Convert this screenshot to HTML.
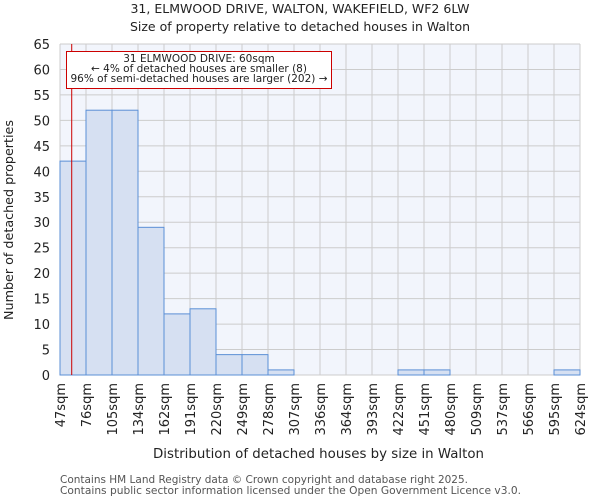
<!DOCTYPE html>
<html><head><meta charset="utf-8"><style>
body{margin:0;background:#fff;font-family:"DejaVu Sans","Liberation Sans",sans-serif}
text{font-family:"DejaVu Sans","Liberation Sans",sans-serif;fill:#222}
</style></head><body>
<svg id="c" width="600" height="500">
<text x="300" y="13" font-size="12.5" text-anchor="middle">31, ELMWOOD DRIVE, WALTON, WAKEFIELD, WF2 6LW</text>
<text x="300" y="31" font-size="12.5" text-anchor="middle">Size of property relative to detached houses in Walton</text>
<rect x="60" y="44" width="520" height="331" fill="#f2f5fc"/>
<g id="grid"></g><g id="bars"></g><g id="axes"></g>
<text x="153" y="458" font-size="13.5" textLength="331" lengthAdjust="spacingAndGlyphs">Distribution of detached houses by size in Walton</text>
<text transform="translate(13,220) rotate(-90)" font-size="12.5" text-anchor="middle" textLength="200" lengthAdjust="spacingAndGlyphs">Number of detached properties</text>
<text x="60" y="483" font-size="10.5" textLength="408" lengthAdjust="spacingAndGlyphs" style="fill:#555">Contains HM Land Registry data © Crown copyright and database right 2025.</text>
<text x="60" y="494" font-size="10.5" textLength="461" lengthAdjust="spacingAndGlyphs" style="fill:#555">Contains public sector information licensed under the Open Government Licence v3.0.</text>
<g id="marker"></g>
</svg>
<script>
const categories=["47sqm","76sqm","105sqm","134sqm","162sqm","191sqm","220sqm","249sqm","278sqm","307sqm","336sqm","364sqm","393sqm","422sqm","451sqm","480sqm","509sqm","537sqm","566sqm","595sqm","624sqm"];
const counts=[42,52,52,29,12,13,4,4,1,0,0,0,0,1,1,0,0,0,0,1];
const yTicks=[0,5,10,15,20,25,30,35,40,45,50,55,60,65];
const binStart=47, binWidth=28.85, propertySize=60;
const X0=60,X1=580,Y0=375,Y1=44,YMAX=65;
const nb=counts.length;
const xs=i=>X0+(X1-X0)*i/nb;
const xv=v=>X0+(X1-X0)*(v-binStart)/(binWidth*nb);
const ys=v=>Y0-(Y0-Y1)*v/YMAX;
const NS="http://www.w3.org/2000/svg";
function mk(p,t,a){const e=document.createElementNS(NS,t);for(const k in a)e.setAttribute(k,a[k]);p.appendChild(e);return e;}
const g=document.getElementById('grid'),b=document.getElementById('bars'),ax=document.getElementById('axes');
yTicks.forEach(v=>{
 const l=mk(g,'line',{x1:X0,x2:X1,y1:ys(v),y2:ys(v),stroke:'#cccccc','stroke-width':1});
 
 
 const t=mk(ax,'text',{x:X0-10,y:ys(v)+5,'font-size':13,'text-anchor':'end'});t.textContent=v;
 
 
});
categories.forEach((c,i)=>{
 const l=mk(g,'line',{x1:xs(i),x2:xs(i),y1:Y1,y2:Y0,stroke:'#cccccc','stroke-width':1});
 
 
 const t=mk(ax,'text',{transform:`translate(${xs(i)+5},${Y0+8}) rotate(-90)`,'font-size':13,'text-anchor':'end'});t.textContent=c;
 
 
});
counts.forEach((v,i)=>{
 if(v<=0)return;
 const r=mk(b,'rect',{x:xs(i),y:ys(v),width:xs(i+1)-xs(i),height:Y0-ys(v),fill:'#d6e0f2',stroke:'#5b8fd6','stroke-width':1});
 
 
});
const m=document.getElementById('marker');
const ml=mk(m,'line',{x1:xv(propertySize),x2:xv(propertySize),y1:Y1,y2:Y0,stroke:'#cc0000','stroke-width':1});


const box=mk(m,'rect',{x:66.5,y:51.5,width:265,height:37,fill:'#fff',stroke:'#cc0000','stroke-width':1});


["31 ELMWOOD DRIVE: 60sqm","← 4% of detached houses are smaller (8)","96% of semi-detached houses are larger (202) →"].forEach((s,i)=>{
 const t=mk(m,'text',{x:199,y:62+i*10,'font-size':10.5,'text-anchor':'middle'});t.textContent=s;
 
 
});
</script>
</body></html>
